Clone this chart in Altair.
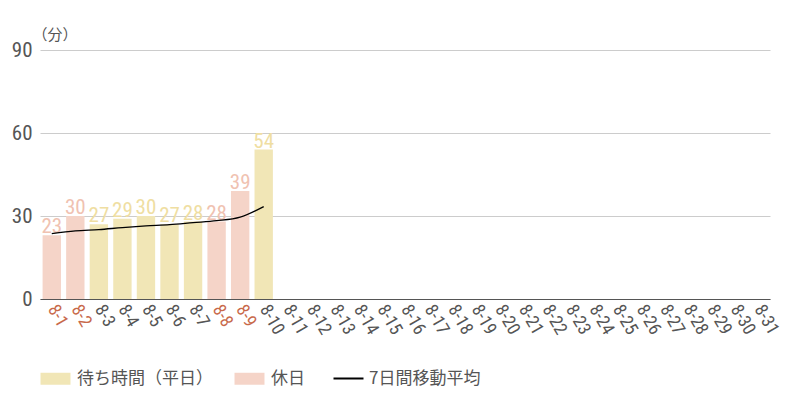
import altair as alt
import pandas as pd

dates = ["8-1", "8-2", "8-3", "8-4", "8-5", "8-6", "8-7", "8-8", "8-9", "8-10",
         "8-11", "8-12", "8-13", "8-14", "8-15", "8-16", "8-17", "8-18", "8-19", "8-20",
         "8-21", "8-22", "8-23", "8-24", "8-25", "8-26", "8-27", "8-28", "8-29", "8-30", "8-31"]
holiday_labels = ["8-1", "8-2", "8-8", "8-9"]

days = ["8-1", "8-2", "8-3", "8-4", "8-5", "8-6", "8-7", "8-8", "8-9", "8-10"]
wait = [23, 30, 27, 29, 30, 27, 28, 28, 39, 54]
daytype = ["休日", "休日", "待ち時間（平日）", "待ち時間（平日）", "待ち時間（平日）",
           "待ち時間（平日）", "待ち時間（平日）", "休日", "休日", "待ち時間（平日）"]
moving_avg = [23.6, 24.6, 25.1, 25.8, 26.4, 26.9, 27.6, 28.3, 29.6, 33.4]

bars_df = pd.DataFrame({"date": days, "wait": wait, "type": daytype})
line_df = pd.DataFrame({"date": days, "avg": moving_avg, "series": ["7日間移動平均"] * len(days)})

NUM_FONT = "Roboto Condensed, Liberation Sans Narrow, DejaVu Sans Condensed, Roboto"
JP_FONT = "Noto Sans CJK JP"

x_enc = alt.X(
    "date:N",
    sort=dates,
    scale=alt.Scale(domain=dates, paddingInner=0.22, paddingOuter=0.11),
    axis=alt.Axis(
        title=None,
        labelAngle=60,
        labelAlign="left",
        labelBaseline="middle",
        labelFontSize=18,
        labelFont=NUM_FONT,
        labelPadding=7,
        labelColor=alt.condition(
            "indexof(" + str(holiday_labels).replace("'", '"') + ", datum.value) >= 0",
            alt.value("#c8694a"),
            alt.value("#555555"),
        ),
        ticks=False,
        domainColor="#555555",
        domainWidth=1,
        grid=False,
    ),
)

y_scale = alt.Scale(domain=[0, 90])
y_axis = alt.Axis(
    title="（分）",
    titleAngle=0,
    titleAlign="left",
    titleBaseline="bottom",
    titleX=-8,
    titleY=-8,
    titleFont=JP_FONT,
    titleFontSize=15,
    titleFontWeight="normal",
    titleColor="#555555",
    values=[0, 30, 60, 90],
    labelFontSize=21,
    labelFont=NUM_FONT,
    labelColor="#555555",
    labelPadding=8,
    ticks=False,
    domain=False,
    gridColor="#cccccc",
    gridWidth=1,
)

bars = alt.Chart(bars_df).mark_bar().encode(
    x=x_enc,
    y=alt.Y("wait:Q", scale=y_scale, axis=y_axis),
    color=alt.Color(
        "type:N",
        scale=alt.Scale(domain=["待ち時間（平日）", "休日"], range=["#f1e6b6", "#f5d4c8"]),
        legend=alt.Legend(
            title=None,
            orient="none",
            legendX=-3,
            legendY=320,
            direction="horizontal",
            symbolType="M-1,-1.2H5V1.2H-1Z",
            symbolSize=100,
            symbolStrokeWidth=0,
            labelOffset=23,
            labelFont=JP_FONT,
            labelFontSize=17,
            labelColor="#555555",
            columnPadding=18,
        ),
    ),
)

labels = alt.Chart(bars_df).mark_text(
    baseline="alphabetic", dy=-2, fontSize=21, font=NUM_FONT
).encode(
    x=alt.X("date:N", sort=dates),
    y=alt.Y("wait:Q"),
    text=alt.Text("wait:Q"),
    color=alt.condition("datum.type === '休日'", alt.value("#f0c2b1"), alt.value("#efdea2")),
)

line = alt.Chart(line_df).mark_line(interpolate="monotone", strokeWidth=1.3).encode(
    x=alt.X("date:N", sort=dates),
    y=alt.Y("avg:Q"),
    stroke=alt.Stroke(
        "series:N",
        scale=alt.Scale(domain=["7日間移動平均"], range=["#000000"]),
        legend=alt.Legend(
            title=None,
            orient="none",
            legendX=290,
            legendY=320,
            symbolType="M-1,0H5",
            symbolSize=100,
            symbolStrokeWidth=2,
            labelOffset=22,
            labelFont=JP_FONT,
            labelFontSize=17,
            labelColor="#555555",
        ),
    ),
)

chart = (
    alt.layer(bars, labels, line)
    .properties(
        width=730,
        height=249,
        autosize=alt.AutoSizeParams(type="none"),
        padding={"left": 32, "top": 42, "right": 20, "bottom": 92},
    )
    .configure_view(stroke=None)
)

chart.save("out.html", embed_options={"renderer": "svg", "actions": False})
